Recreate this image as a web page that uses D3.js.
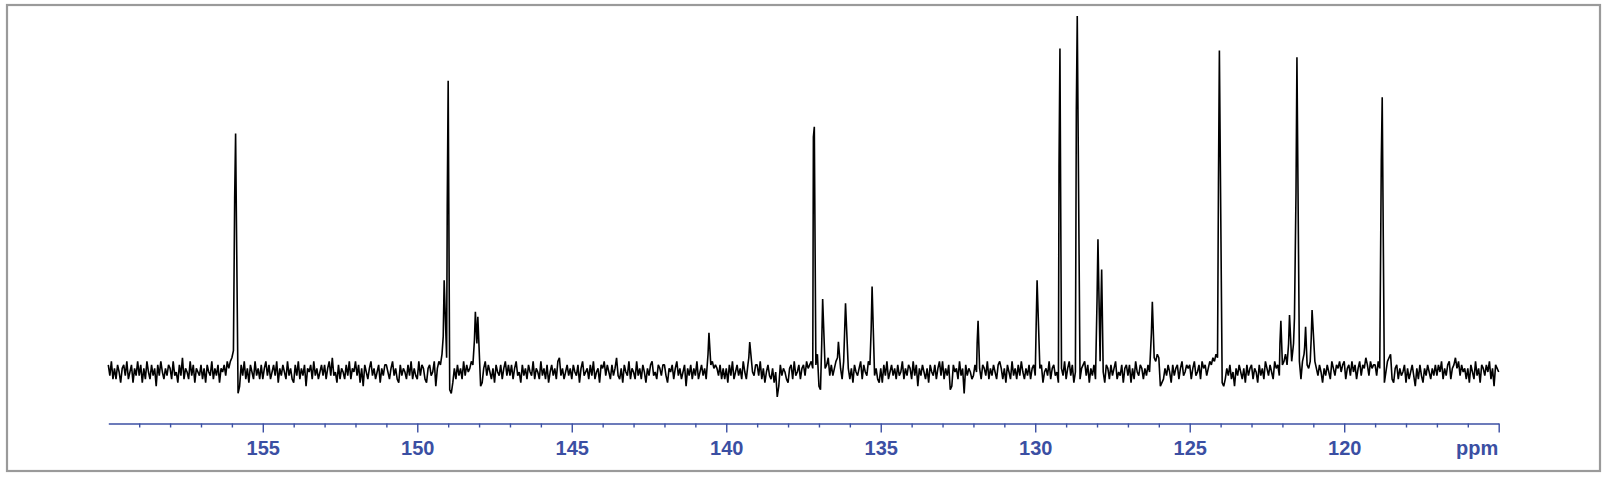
<!DOCTYPE html>
<html><head><meta charset="utf-8">
<script src="https://cdn.jsdelivr.net/npm/d3@7"></script>
<style>html,body{margin:0;padding:0;background:#fff;}svg{display:block}</style>
</head><body><svg id="c" width="1607" height="477"></svg>
<script>
// ---- data ----
const noiseStartPpm = 160.0;
const noiseStepPpm = 0.05;
// baseline noise, one value per 0.05 ppm from 160.00 down to 115.00 (intensity units, tallest peak = 100)
const noise = [
  2,-1,3,-2,1,-2,2,0,-3,1,2,-1,3,-2,0,2,-3,1,-1,3,
  -1,2,-3,1,-2,3,0,-2,2,-1,1,-4,2,-1,3,0,-2,1,-1,2,
  1,-2,3,-1,0,-3,2,-1,4,-2,1,0,-2,3,-1,2,-3,1,0,-1,
  2,-2,1,-3,2,0,-1,3,-2,1,-1,2,-3,1,0,2,-1,3,1,3,
  4,6,1,-1,-6,-4,2,-1,3,-2,1,-3,2,0,-2,3,-1,1,-2,2,
  -2,1,3,-1,2,-2,0,2,-1,3,-3,1,-1,2,0,-2,3,-1,1,-2,
  -3,2,-1,3,-2,1,-1,2,-4,1,0,2,-2,3,-1,1,-2,0,2,-1,
  2,-2,1,3,-1,4,-1,0,-3,2,-2,1,0,-2,2,-1,3,-2,1,0,
  3,-1,2,-3,1,-4,2,0,-2,1,3,-1,1,-2,0,2,-3,1,-1,2,
  2,0,-2,1,3,-1,1,-2,-3,2,-1,1,0,-2,2,-1,3,-2,1,-1,
  -2,3,-1,2,1,-2,-3,1,2,-1,0,3,-4,1,3,2,5,3,4,4,
  4,-5,-6,-3,1,-2,2,-1,1,-2,3,-1,2,0,1,3,2,1,2,2,
  2,-4,-3,1,3,-1,2,0,-2,1,-3,2,0,-1,2,-2,1,3,-1,2,
  -1,2,-2,1,3,-1,0,-3,2,-1,1,-2,2,0,-1,3,-2,1,0,-2,
  3,-1,1,-2,2,-3,0,2,-1,1,-2,3,4,-1,1,-2,0,2,-1,1,
  -2,2,0,-1,2,-3,1,3,-1,0,1,-2,2,-1,3,-2,0,1,-3,2,
  1,3,-1,2,0,-2,2,-1,1,4,-1,-2,1,-3,2,0,-1,3,-2,1,
  0,-2,3,-1,1,-2,2,0,-3,1,-1,2,3,-1,0,-2,2,1,-1,2,
  2,-1,-3,1,0,2,-2,1,3,-1,1,-2,0,2,-4,1,-1,2,-2,1,
  -1,3,-2,0,2,-1,1,-2,0,3,2,3,1,2,1,-1,2,-2,1,-2,
  1,-3,2,-1,3,-2,0,2,-1,1,-2,3,0,-2,2,-4,1,0,-1,2,
  2,-1,3,-2,1,-3,0,2,-1,-2,1,-3,0,-7,-4,2,-1,1,0,-2,
  -3,1,2,-2,3,-1,0,2,-2,1,2,-1,3,1,2,3,1,4,2,5,
  -4,-5,3,-2,1,2,4,-1,2,-1,1,3,-1,2,1,-2,3,2,4,1,
  -2,1,-3,2,0,-1,1,3,-2,2,0,-1,3,2,4,3,-1,1,-2,-3,
  1,-3,2,-1,3,-2,0,2,-1,1,-2,2,-1,0,3,-2,1,-1,2,1,
  -2,3,-1,2,-4,1,-1,2,0,-2,1,-3,2,0,-1,2,-2,1,3,-1,
  3,-2,1,-1,2,-5,-4,2,0,1,-2,3,-1,1,-6,2,-1,1,0,-2,
  -1,2,0,-3,1,-2,2,1,-1,3,-2,1,-1,2,0,-2,2,3,1,-2,
  1,-3,2,0,-2,3,-1,1,-2,2,-1,3,0,-2,1,-1,2,-2,1,2,
  -1,3,-2,1,2,-3,0,1,-1,3,-2,1,2,-1,0,-3,2,1,-1,3,
  -2,1,3,-1,2,-3,0,-1,2,-2,1,2,3,-1,2,-3,1,-1,2,-2,
  1,-1,3,-2,0,-3,2,1,-2,2,-1,1,3,-2,0,-1,2,-3,1,2,
  -1,2,-3,1,-2,3,0,-1,2,1,-2,1,-1,2,0,3,2,4,3,5,
  4,-4,-3,-2,1,-1,2,0,-3,2,-1,1,2,-2,1,3,-1,0,2,1,
  2,-2,1,3,-1,0,2,-2,3,1,2,-1,1,3,2,4,3,5,4,6,
  5,-3,-4,-2,1,-1,2,-2,0,-4,1,-1,2,0,-2,1,-3,2,-1,1,
  2,-2,1,0,-3,2,-1,1,-2,3,1,-1,2,0,-2,3,1,2,-1,3,
  2,3,5,2,-1,4,3,5,-3,2,4,3,-2,3,5,4,2,1,3,4,
  -2,3,1,-1,2,0,-3,1,-1,2,0,-2,3,1,-1,2,1,3,0,2,
  3,-2,1,2,-1,3,0,2,-2,1,3,-1,2,1,4,2,-1,3,1,2,
  2,-1,3,1,-2,2,-3,0,3,4,5,-2,-3,1,2,-2,1,-1,0,2,
  -3,1,-2,0,2,-1,-4,1,-2,2,-1,-3,1,-1,2,0,-2,1,-1,2,
  -1,2,0,3,-2,1,-1,2,3,-2,1,2,4,1,3,-1,2,0,1,-2,
  1,-3,2,0,-2,3,-1,1,-3,2,1,-1,2,0,3,-2,1,-4,2,1,
  0
];
const peakPpm      = [155.88,149.13,149.00,148.12,148.04,140.56,139.24,137.15,136.88,136.37,136.14,135.28,131.85,129.94,129.20,128.64,127.97,127.85,126.21,124.04,122.05,121.77,121.61,121.53,121.25,121.04,118.77];
const peakHeight   = [67.0, 25.8, 81.8, 16.9, 15.5, 11.0, 8.4, 68.9, 20.5, 8.5, 19.3, 24.0, 14.4, 25.8, 90.9, 100, 37.3, 28.8, 19.7, 90.3, 14.4, 16.0, 15.2, 88.4, 12.7, 17.4, 77.2];
const peakShoulder = [48.9, 10.0, 46.4, 9.0, 8.0, 5.0, 4.0, 66.0, 8.0, 4.0, 11.0, 12.0, 8.0, 13.0, 57.6, 73.3, 20.0, 16.0, 11.0, 52.5, 8.0, 8.0, 8.0, 50.5, 7.0, 9.0, 59.1];
const majorTicks = [155,150,145,140,135,130,125,120,115];
const minorTicks = [159,158,157,156,154,153,152,151,149,148,147,146,144,143,142,141,139,138,137,136,134,133,132,131,129,128,127,126,124,123,122,121,119,118,117,116];
const axisDomain = [160,115];
const unitLabel = "ppm";

// ---- drawing ----
const svg = d3.select("#c");
svg.append("rect").attr("x",7).attr("y",5).attr("width",1593).attr("height",466)
  .attr("fill","#fff").attr("stroke","#9a9a9a").attr("stroke-width",2.2);

const x = d3.scaleLinear().domain(axisDomain).range([108.3,1498.7]);
const y = d3.scaleLinear().domain([0,100]).range([372,16]);

const pts = [];
noise.forEach((v,i)=>{
  const p = +(noiseStartPpm - i*noiseStepPpm).toFixed(3);
  if (peakPpm.every(q=>Math.abs(q-p) >= 0.045)) pts.push([p,v]);
});
peakPpm.forEach((p,i)=>{
  pts.push([p+0.03, peakShoulder[i]]);
  pts.push([p, peakHeight[i]]);
});
pts.sort((a,b)=>b[0]-a[0]);

svg.append("path").datum(pts)
  .attr("fill","none").attr("stroke","#000").attr("stroke-width",1.6)
  .attr("stroke-linejoin","bevel")
  .attr("d", d3.line().x(d=>x(d[0])).y(d=>y(d[1])));

const axisColor = "#3b4fa3";
const axisY = 423.5;
const gMinor = svg.append("g").attr("transform",`translate(0,${axisY})`)
  .call(d3.axisBottom(x).tickValues(minorTicks).tickSize(4).tickFormat("").tickSizeOuter(0));
const gMajor = svg.append("g").attr("transform",`translate(0,${axisY})`)
  .call(d3.axisBottom(x).tickValues(majorTicks).tickSize(9).tickPadding(8).tickSizeOuter(0)
    .tickFormat(d=> d===115 ? unitLabel : String(d)));
[gMinor,gMajor].forEach(g=>{
  g.selectAll("path,line").attr("stroke",axisColor).attr("stroke-width",1.4);
});
gMinor.select(".domain").remove();
gMajor.selectAll("text")
  .attr("fill",axisColor)
  .style("font-family","'Liberation Sans', Arial, Helvetica, sans-serif")
  .style("font-weight","bold").style("font-size","20px");
gMajor.selectAll(".tick").filter(d=>d===115).select("text")
  .attr("text-anchor","end").attr("dx","-1");
</script></body></html>
